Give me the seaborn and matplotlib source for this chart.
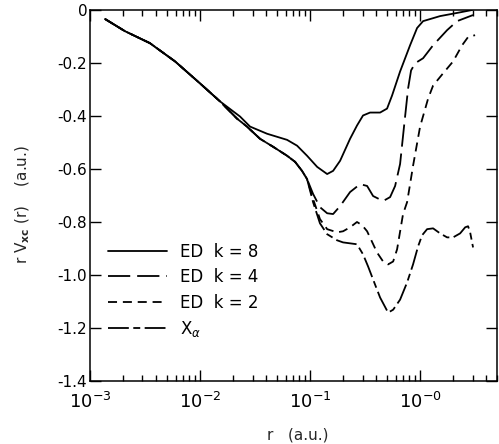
import numpy as np
import pandas as pd
import matplotlib
matplotlib.use("Agg")
import matplotlib.pyplot as plt
import seaborn as sns
from matplotlib.ticker import LogLocator, FixedLocator, NullFormatter

sns.set_theme(style="ticks")
plt.rcParams['font.family'] = ['DejaVu Sans']
plt.rcParams['mathtext.fontset'] = 'dejavusans'
plt.rcParams['axes.unicode_minus'] = False
plt.rcParams['lines.scale_dashes'] = False
plt.rcParams.update({
    "xtick.direction": "in", "ytick.direction": "in",
    "xtick.top": True, "xtick.bottom": True, "ytick.left": True, "ytick.right": True,
    "xtick.major.size": 8, "ytick.major.size": 8,
    "xtick.minor.size": 4, "ytick.minor.size": 0,
    "xtick.major.width": 1.0, "ytick.major.width": 1.0, "xtick.minor.width": 1.0,
    "xtick.color": "black", "ytick.color": "black",
    "axes.edgecolor": "black", "axes.linewidth": 1.1,
})

# ---- data ----
r_common = [1.37e-3, 2.08e-3, 3.5e-3, 5.93e-3, 0.010, 0.0152]
v_common = [-0.034, -0.080, -0.125, -0.194, -0.277, -0.345]

r_k8 = [0.0231, 0.0285, 0.0407, 0.0618, 0.0762, 0.0939, 0.116, 0.143, 0.162,
        0.1875, 0.231, 0.267, 0.303, 0.351, 0.433, 0.501, 0.556, 0.658, 0.811,
        0.939, 1.065, 1.52, 2.17, 2.97]
v_k8 = [-0.402, -0.440, -0.467, -0.490, -0.512, -0.550, -0.592, -0.619, -0.607,
        -0.569, -0.486, -0.436, -0.398, -0.387, -0.387, -0.372, -0.323, -0.232,
        -0.133, -0.068, -0.042, -0.023, -0.011, 0.0]

r_bundle = [0.0217, 0.0267, 0.0351, 0.0461, 0.0618, 0.0731, 0.0845, 0.0939]
v_bundle = [-0.410, -0.440, -0.486, -0.516, -0.550, -0.573, -0.607, -0.638]

r_k4 = [0.1065, 0.123, 0.143, 0.162, 0.1875, 0.231, 0.285, 0.330, 0.374, 0.461,
        0.534, 0.593, 0.658, 0.716, 0.778, 0.828, 0.901, 1.065, 1.313, 1.76,
        2.17, 3.03]
v_k4 = [-0.694, -0.744, -0.767, -0.770, -0.740, -0.687, -0.657, -0.664, -0.702,
        -0.721, -0.706, -0.664, -0.581, -0.436, -0.296, -0.228, -0.201, -0.182,
        -0.133, -0.076, -0.042, -0.019]

r_k2 = [0.1065, 0.123, 0.143, 0.176, 0.1995, 0.231, 0.267, 0.297, 0.330, 0.406,
        0.461, 0.512, 0.569, 0.618, 0.700, 0.762, 0.811, 0.863, 1.0, 1.183,
        1.313, 1.618, 1.995, 2.41, 2.73, 3.16]
v_k2 = [-0.713, -0.789, -0.827, -0.839, -0.835, -0.820, -0.800, -0.812, -0.835,
        -0.915, -0.949, -0.960, -0.949, -0.903, -0.770, -0.725, -0.657, -0.588,
        -0.440, -0.334, -0.285, -0.239, -0.194, -0.133, -0.102, -0.095]

r_xa = [0.1065, 0.123, 0.143, 0.176, 0.1995, 0.267, 0.303, 0.337, 0.374, 0.433,
        0.512, 0.569, 0.658, 0.762, 0.863, 0.959, 1.043, 1.158, 1.313, 1.52,
        1.76, 1.995, 2.31, 2.57, 2.73, 2.85, 3.03]
v_xa = [-0.725, -0.805, -0.846, -0.869, -0.877, -0.884, -0.922, -0.968, -1.017,
        -1.085, -1.142, -1.131, -1.093, -1.028, -0.960, -0.892, -0.850, -0.827,
        -0.824, -0.843, -0.858, -0.858, -0.843, -0.820, -0.816, -0.839, -0.896]

labels = ["ED  k = 8", "ED  k = 4", "ED  k = 2", r"X$_\alpha$"]
xtick_vals = [1e-3, 1e-2, 1e-1, 1e0]
xtick_labels = [r"$10^{-3}$", r"$10^{-2}$", r"$10^{-1}$", r"$10^{-0}$"]
ytick_vals = [0, -0.2, -0.4, -0.6, -0.8, -1.0, -1.2, -1.4]
ytick_labels = ["0", "-0.2", "-0.4", "-0.6", "-0.8", "-1.0", "-1.2", "-1.4"]

series_r = [r_common + r_k8,
            r_common + r_bundle + r_k4,
            r_common + r_bundle + r_k2,
            r_common + r_bundle + r_xa]
series_v = [v_common + v_k8,
            v_common + v_bundle + v_k4,
            v_common + v_bundle + v_k2,
            v_common + v_bundle + v_xa]
frames = []
for lab, rr, vv in zip(labels, series_r, series_v):
    frames.append(pd.DataFrame({"r": rr, "v": vv, "series": lab}))
df = pd.concat(frames, ignore_index=True)

fig = plt.figure(figsize=(4.99, 4.44), dpi=100)
ax = fig.add_axes([90/499, 1 - 381/444, 407/499, 371/444])

dashes = {labels[0]: "",
          labels[1]: (16, 5),
          labels[2]: (6.5, 4.2),
          labels[3]: (15, 3.2, 5, 3.2)}
sns.lineplot(data=df, x="r", y="v", hue="series", style="series",
             palette=["black"] * 4, dashes=dashes, sort=False, estimator=None,
             units="series", linewidth=1.3, ax=ax, legend=True)

ax.set_xscale("log")
ax.set_xlim(1e-3, 5.0)
ax.set_ylim(-1.4, 0)

ax.xaxis.set_major_locator(FixedLocator(xtick_vals))
ax.set_xticklabels(xtick_labels, fontsize=13)
ax.xaxis.set_minor_locator(LogLocator(base=10, subs=np.arange(2, 10)))
ax.xaxis.set_minor_formatter(NullFormatter())
ax.set_yticks(ytick_vals)
ax.set_yticklabels(ytick_labels, fontsize=11)

ax.tick_params(axis="x", which="major", length=8, pad=8)
ax.tick_params(axis="y", which="major", length=8, pad=2)
ax.tick_params(axis="x", which="minor", length=4)

ax.set_xlabel("r   (a.u.)", fontsize=11)
ax.xaxis.set_label_coords(0.51, -0.125)
ax.set_ylabel(r"r V$_{\mathbf{xc}}$ (r)    (a.u.)", fontsize=11)
ax.yaxis.set_label_coords(-0.143, 0.476)

handles, labs = ax.get_legend_handles_labels()
leg = ax.legend(handles, labs, loc="upper left", bbox_to_anchor=(0.045, 0.372),
                frameon=False, fontsize=12, handlelength=3.5, handletextpad=0.78,
                labelspacing=0.44, borderpad=0, borderaxespad=0)
for t in leg.get_texts():
    t.set_color("black")

fig.savefig("out.png", dpi=100)
